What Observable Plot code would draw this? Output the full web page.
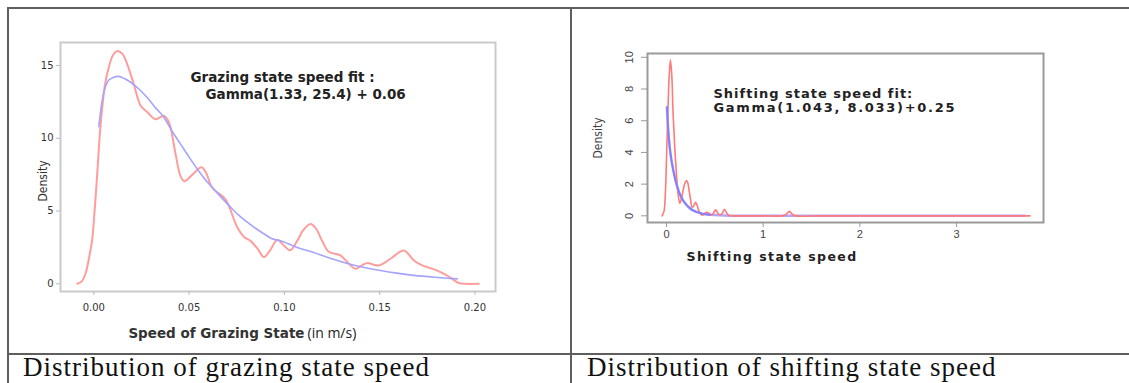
<!DOCTYPE html>
<html>
<head>
<meta charset="utf-8">
<script src="https://cdn.jsdelivr.net/npm/d3@7"></script>
<script src="https://cdn.jsdelivr.net/npm/@observablehq/plot@0.6"></script>
<style>
  html, body { margin: 0; padding: 0; background: #fff; }
  #page { position: relative; width: 1129px; height: 383px; overflow: hidden; background: #fff; }
  .rule { position: absolute; background: #5e5e5e; }
  .cap { position: absolute; font-family: "Liberation Serif", "DejaVu Serif", serif; font-size: 27px; line-height: 27px; letter-spacing: 1px; color: #111; white-space: nowrap; }
  .chart { position: absolute; top: 0; }
</style>
</head>
<body>
<div id="page">
  <div class="rule" style="left:7px; top:7px; width:1122px; height:2px;"></div>
  <div class="rule" style="left:7px; top:7px; width:2px; height:376px;"></div>
  <div class="rule" style="left:570px; top:7px; width:2px; height:376px;"></div>
  <div class="rule" style="left:7px; top:353px; width:1122px; height:2px;"></div>
  <div id="left" class="chart" style="left:0px;"></div>
  <div id="right" class="chart" style="left:571px;"></div>
  <div class="cap" style="left:23px; top:354px;">Distribution of grazing state speed</div>
  <div class="cap" style="left:587px; top:354px;">Distribution of shifting state speed</div>
</div>
<script>
// ---- Grazing state: kernel density (red) ----
const grazingKdeSpeed = [-0.0087,-0.0065,-0.0044,-0.0025,-0.0009,0.0005,0.0018,0.0030,0.0044,0.0060,0.0079,0.0100,0.0123,0.0150,0.0175,0.0210,0.0245,0.0280,0.0324,0.0367,0.0394,0.0429,0.0455,0.0475,0.0525,0.0565,0.0590,0.0621,0.0691,0.0752,0.0790,0.0822,0.0860,0.0892,0.0925,0.0962,0.1000,0.1030,0.1065,0.1100,0.1137,0.1165,0.1200,0.1233,0.1294,0.1330,0.1373,0.1405,0.1434,0.1495,0.1557,0.1627,0.1680,0.1723,0.1793,0.1854,0.1890,0.1915,0.1950,0.2020];
const grazingKdeDensity = [0,0.15,0.69,1.8,3.0,5.2,7.6,10.0,12.1,13.8,14.9,15.7,16.0,15.8,15.1,13.7,12.25,11.8,11.3,11.55,11.1,8.9,7.4,7.05,7.6,8.0,7.6,6.6,5.8,3.9,3.2,2.95,2.4,1.83,2.3,3.0,2.6,2.3,2.9,3.7,4.1,3.8,2.9,2.2,1.95,1.5,1.03,1.25,1.42,1.26,1.72,2.29,1.6,1.26,0.96,0.57,0.25,0.05,0,0];
// ---- Grazing state: Gamma fit (blue) ----
const grazingFitSpeed = [0.0026,0.0044,0.0060,0.0079,0.0105,0.0131,0.0160,0.0193,0.0235,0.0280,0.0320,0.0367,0.0410,0.0455,0.0500,0.0542,0.0585,0.0630,0.0675,0.0717,0.0760,0.0805,0.0850,0.0892,0.0935,0.0980,0.1067,0.1154,0.1240,0.1330,0.1420,0.1504,0.1590,0.1680,0.1790,0.1907];
const grazingFitDensity = [10.8,12.6,13.5,14.0,14.2,14.25,14.1,13.85,13.4,12.8,12.15,11.45,10.5,9.6,8.7,7.9,7.15,6.5,5.85,5.27,4.72,4.23,3.8,3.44,3.1,2.95,2.5,2.15,1.75,1.4,1.12,0.91,0.73,0.58,0.45,0.34];
const grazingXTicks = [0, 0.05, 0.10, 0.15, 0.20];
const grazingYTicks = [0, 5, 10, 15];
const grazingFitText = ["Grazing state speed fit :", "Gamma(1.33, 25.4) + 0.06"];
const grazingXTitleBold = "Speed of Grazing State";
const grazingXTitleUnit = "(in m/s)";

// ---- Shifting state: kernel density (red) ----
const shiftKdeSpeed = [-0.045,-0.025,-0.01,0.0,0.014,0.028,0.041,0.055,0.069,0.086,0.103,0.12,0.138,0.155,0.172,0.19,0.207,0.22,0.234,0.25,0.265,0.28,0.30,0.315,0.334,0.355,0.38,0.40,0.42,0.44,0.46,0.485,0.507,0.53,0.55,0.575,0.60,0.625,0.65,0.70,0.80,1.0,1.2,1.24,1.27,1.30,1.34,1.6,2.0,2.5,3.0,3.5,3.76];
const shiftKdeDensity = [0,0.3,1.6,3.5,6.4,8.8,9.84,8.9,6.4,4.3,2.65,1.4,0.8,1.1,1.6,2.05,2.23,2.1,1.6,1.0,0.54,0.6,0.86,0.7,0.33,0.1,0.06,0.18,0.23,0.15,0.05,0.15,0.38,0.2,0.05,0.15,0.42,0.15,0.02,0,0,0,0,0.1,0.28,0.1,0,0,0,0,0,0,0];
// ---- Shifting state: Gamma fit (blue) ----
const shiftFitSpeed = [0.005,0.024,0.04,0.058,0.08,0.103,0.13,0.162,0.195,0.231,0.27,0.317,0.38,0.45,0.55,0.65,0.8,1.2,2.0,3.0,3.7];
const shiftFitDensity = [6.85,4.96,4.0,3.28,2.6,2.02,1.5,1.07,0.78,0.54,0.36,0.23,0.12,0.07,0.03,0.01,0,0,0,0,0];
const shiftXTicks = [0, 1, 2, 3];
const shiftYTicks = [0, 2, 4, 6, 8, 10];
const shiftFitText = ["Shifting state speed fit:", "Gamma(1.043, 8.033)+0.25"];
const shiftXTitle = "Shifting state speed";
const densityLabel = "Density";

const zip = (xs, ys) => xs.map((x, i) => ({x, y: ys[i]}));
const condensed = "'Liberation Sans Narrow', 'DejaVu Sans Condensed', sans-serif";

// ---------- Left chart ----------
const left = Plot.plot({
  width: 570, height: 350,
  marginLeft: 60, marginRight: 75, marginTop: 42, marginBottom: 59,
  x: {domain: [-0.0175, 0.2108]},
  y: {domain: [-0.53, 16.58]},
  style: {fontFamily: "'DejaVu Sans', sans-serif", fontSize: "10px", background: "transparent", color: "#333"},
  marks: [
    Plot.frame({stroke: "#cacaca", strokeWidth: 2}),
    Plot.axisX({ticks: grazingXTicks, tickFormat: d3.format(".2f"), tickSize: 4, tickPadding: 8, stroke: "#bbb", fill: "#333", label: null}),
    Plot.axisY({ticks: grazingYTicks, tickSize: 4, tickPadding: 3, stroke: "#bbb", fill: "#333", label: null}),
    Plot.line(zip(grazingKdeSpeed, grazingKdeDensity), {x: "x", y: "y", stroke: "#ff9c9c", strokeWidth: 2, curve: "catmull-rom"}),
    Plot.line(zip(grazingFitSpeed, grazingFitDensity), {x: "x", y: "y", stroke: "#a4a4ff", strokeWidth: 1.6, curve: "catmull-rom"}),
    Plot.text([grazingFitText[0]], {frameAnchor: "top-left", dx: 130, dy: 35, textAnchor: "start", lineAnchor: "middle", fontWeight: "bold", fontSize: 13.5, fill: "#222"}),
    Plot.text([grazingFitText[1]], {frameAnchor: "top-left", dx: 145, dy: 52, textAnchor: "start", lineAnchor: "middle", fontWeight: "bold", fontSize: 13.5, fill: "#222"}),
    Plot.text([grazingXTitleBold], {frameAnchor: "bottom-left", dx: 244, dy: 42, textAnchor: "end", lineAnchor: "middle", fontWeight: "bold", fontSize: 13.5, fill: "#333"}),
    Plot.text([grazingXTitleUnit], {frameAnchor: "bottom-left", dx: 247, dy: 42, textAnchor: "start", lineAnchor: "middle", fontSize: 14, fill: "#222", fontFamily: "'Open Sans', sans-serif"}),
    Plot.text([densityLabel], {frameAnchor: "left", dx: -17, dy: 14, textAnchor: "middle", lineAnchor: "middle", rotate: -90, fontSize: 12, fill: "#333", fontFamily: condensed})
  ]
});
document.getElementById("left").appendChild(left);

// ---------- Right chart ----------
const right = Plot.plot({
  width: 558, height: 350,
  marginLeft: 76, marginRight: 86, marginTop: 53, marginBottom: 128,
  x: {domain: [-0.196, 3.899]},
  y: {domain: [-0.42, 10.24]},
  style: {fontFamily: "'Liberation Sans', Arial, sans-serif", fontSize: "11px", background: "transparent", color: "#444"},
  marks: [
    Plot.frame({stroke: "#9a9a9a", strokeWidth: 2}),
    Plot.axisX({ticks: shiftXTicks, tickFormat: d3.format("d"), tickSize: 5, tickPadding: 3, stroke: "#999", fill: "#444", label: null}),
    Plot.axisY({ticks: shiftYTicks, tickFormat: d3.format("d"), tickSize: 6, tickPadding: 9, tickRotate: -90, stroke: "#999", fill: "#444", label: null}),
    Plot.line(zip(shiftFitSpeed, shiftFitDensity), {x: "x", y: "y", stroke: "#b3a6ff", strokeWidth: 2.5, curve: "catmull-rom"}),
    Plot.line(zip(shiftKdeSpeed, shiftKdeDensity), {x: "x", y: "y", stroke: "#ff7a7a", strokeWidth: 1.6, curve: "catmull-rom"}),
    Plot.line(zip(shiftFitSpeed.slice(0, 14), shiftFitDensity.slice(0, 14)), {x: "x", y: "y", stroke: "#7f7fff", strokeWidth: 1.8, curve: "catmull-rom"}),
    Plot.text([shiftFitText[0]], {frameAnchor: "top-left", dx: 66, dy: 40, textAnchor: "start", lineAnchor: "middle", fontWeight: "bold", fontSize: 13, fill: "#222", fontFamily: "'DejaVu Sans', sans-serif"}),
    Plot.text([shiftFitText[1]], {frameAnchor: "top-left", dx: 66, dy: 54.5, textAnchor: "start", lineAnchor: "middle", fontWeight: "bold", fontSize: 13, fill: "#222", fontFamily: "'DejaVu Sans', sans-serif"}),
    Plot.text([shiftXTitle], {frameAnchor: "bottom-left", dx: 39, dy: 34.5, textAnchor: "start", lineAnchor: "middle", fontWeight: "bold", fontSize: 12.5, fill: "#222", fontFamily: "'DejaVu Sans', sans-serif"}),
    Plot.text([densityLabel], {frameAnchor: "left", dx: -49, dy: 0, textAnchor: "middle", lineAnchor: "middle", rotate: -90, fontSize: 12, fill: "#444", fontFamily: condensed})
  ]
});
document.getElementById("right").appendChild(right);

// widen the stretched-looking bold labels of the right panel
const spacing = new Map([[shiftFitText[0], "1px"], [shiftFitText[1], "1.7px"], [shiftXTitle, "1.4px"]]);
d3.select(right).selectAll("text").each(function() {
  const s = spacing.get(this.textContent);
  if (s) this.style.letterSpacing = s;
});
</script>
</body>
</html>
